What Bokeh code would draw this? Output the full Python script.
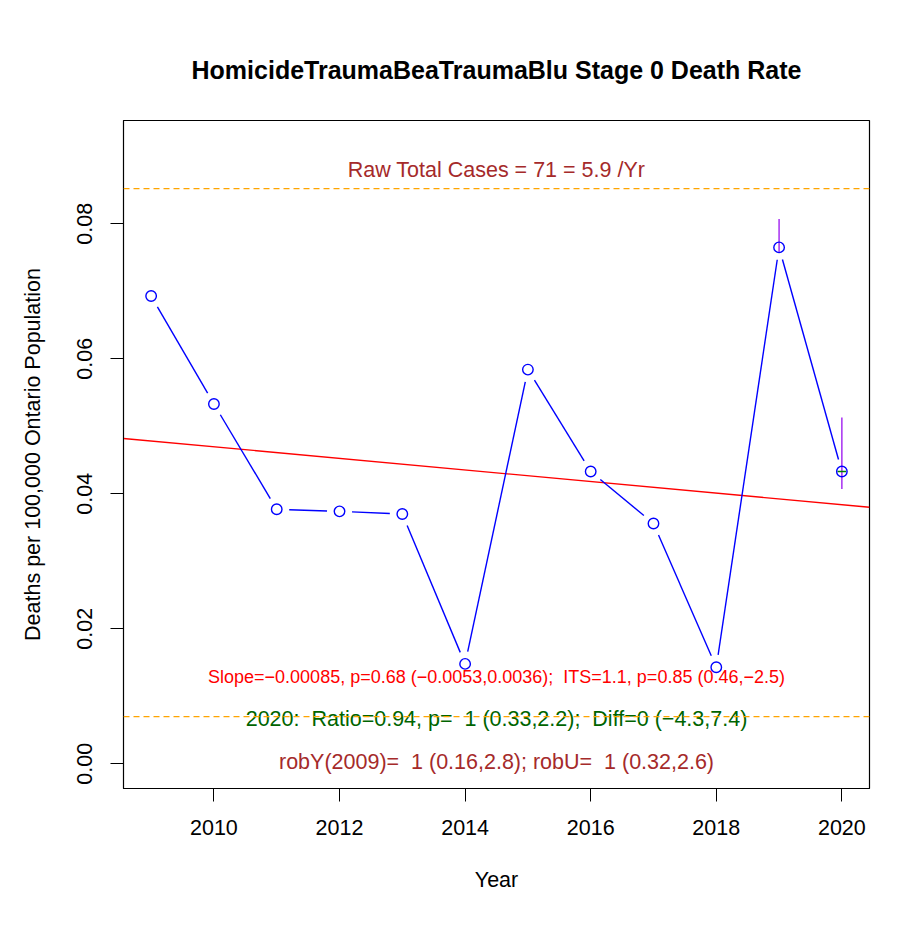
import math
from bokeh.plotting import figure
from bokeh.models import FixedTicker, NumeralTickFormatter, Span, Range1d
from bokeh.core.properties import value
from bokeh.embed import file_html
from bokeh.resources import INLINE

years = [2009, 2010, 2011, 2012, 2013, 2014, 2015, 2016, 2017, 2018, 2019, 2020]
rates = [0.0693, 0.0533, 0.0377, 0.0374, 0.0370, 0.0148, 0.0584, 0.0433, 0.0356, 0.0143, 0.0765, 0.0433]
trend_x = [2008.56, 2020.44]
trend_y = [0.0482, 0.0380]
err_x = [2019, 2020]
err_lo = [0.0757, 0.0407]
err_hi = [0.0807, 0.0513]
upper_ref = 0.0852
lower_ref = 0.0070
x_ticks = [2010, 2012, 2014, 2016, 2018, 2020]
y_ticks = [0.00, 0.02, 0.04, 0.06, 0.08]

NB = "\u00a0"
title_text = "HomicideTraumaBeaTraumaBlu Stage 0 Death Rate"
raw_text = "Raw Total Cases = 71 = 5.9 /Yr"
slope_text = "Slope=\u22120.00085, p=0.68 (\u22120.0053,0.0036);" + NB + " ITS=1.1, p=0.85 (0.46,\u22122.5)"
ratio_text = "2020:" + NB + " Ratio=0.94, p=" + NB + " 1 (0.33,2.2);" + NB + " Diff=0 (\u22124.3,7.4)"
rob_text = "robY(2009)=" + NB + " 1 (0.16,2.8); robU=" + NB + " 1 (0.32,2.6)"

FONT = "Liberation Sans"
xr = (2008.56, 2020.44)
yr = (-0.00366, 0.0953)
FW, FH = 746, 668

p = figure(width=919, height=920, frame_width=FW, frame_height=FH,
           x_range=Range1d(*xr), y_range=Range1d(*yr),
           output_backend="svg", toolbar_location=None,
           min_border_left=123, min_border_right=50, min_border_top=120, min_border_bottom=132)
p.grid.visible = False
p.outline_line_color = "black"
p.outline_line_width = 1.2
p.outline_line_alpha = 1

p.title.text = title_text
p.title.align = "center"
p.title.text_font = FONT
p.title.text_font_size = "25px"
p.title.text_font_style = "bold"
p.title.text_color = "black"
p.title.standoff = 73

for ax in (p.xaxis[0], p.yaxis[0]):
    ax.major_tick_out = 13
    ax.major_tick_in = 0
    ax.minor_tick_out = 0
    ax.minor_tick_in = 0
    ax.axis_line_color = "black"
    ax.major_tick_line_color = "black"
    ax.major_label_text_font = FONT
    ax.major_label_text_font_size = "21.5px"
    ax.major_label_text_color = "black"
    ax.axis_label_text_font = FONT
    ax.axis_label_text_font_size = "21.5px"
    ax.axis_label_text_font_style = "normal"
    ax.axis_label_text_color = "black"

p.xaxis[0].ticker = FixedTicker(ticks=x_ticks)
p.xaxis[0].axis_label = "Year"
p.xaxis[0].major_label_standoff = 18
p.xaxis[0].axis_label_standoff = 30
p.yaxis[0].ticker = FixedTicker(ticks=y_ticks)
p.yaxis[0].formatter = NumeralTickFormatter(format="0.00")
p.yaxis[0].major_label_orientation = "vertical"
p.yaxis[0].major_label_standoff = 18
p.yaxis[0].axis_label = "Deaths per 100,000 Ontario Population"
p.yaxis[0].axis_label_standoff = 30

# reference dashed lines
for yv in (upper_ref, lower_ref):
    p.add_layout(Span(location=yv, dimension="width", line_color="orange",
                      line_dash="6 4", line_width=1.2))

# trend line
p.line(trend_x, trend_y, line_color="red", line_width=1.4)

# gapped line segments (R type="b")
sx = FW / (xr[1] - xr[0])
sy = FH / (yr[1] - yr[0])
gap = 12.5
x0s, y0s, x1s, y1s = [], [], [], []
for i in range(len(years) - 1):
    xa, ya, xb, yb = years[i], rates[i], years[i + 1], rates[i + 1]
    L = math.hypot((xb - xa) * sx, (yb - ya) * sy)
    if L > 2 * gap:
        f = gap / L
        x0s.append(xa + (xb - xa) * f); y0s.append(ya + (yb - ya) * f)
        x1s.append(xb - (xb - xa) * f); y1s.append(yb - (yb - ya) * f)
p.segment(x0s, y0s, x1s, y1s, line_color="blue", line_width=1.4)

# error bars
p.segment(err_x, err_lo, err_x, err_hi, line_color="#A020F0", line_width=1.4)
p.segment([2020 - 0.07], [rates[-1]], [2020 + 0.07], [rates[-1]], line_color="green", line_width=1.6)

p.scatter(years, rates, size=10.5, marker="circle", fill_color=None, line_color="blue", line_width=1.4)

# annotations text
xc = (xr[0] + xr[1]) / 2
p.text([xc], [0.0879], text=[raw_text], text_color="brown", text_font=value(FONT),
       text_font_size="21.5px", text_align="center", text_baseline="middle")
p.text([xc], [0.0128], text=[slope_text], text_color="red", text_font=value(FONT),
       text_font_size="18px", text_align="center", text_baseline="middle")
p.text([xc], [0.0067], text=[ratio_text], text_color="darkgreen", text_font=value(FONT),
       text_font_size="21.5px", text_align="center", text_baseline="middle")
p.text([xc], [0.0002], text=[rob_text], text_color="brown", text_font=value(FONT),
       text_font_size="21.5px", text_align="center", text_baseline="middle")

open("out.html", "w").write(file_html(p, INLINE))
